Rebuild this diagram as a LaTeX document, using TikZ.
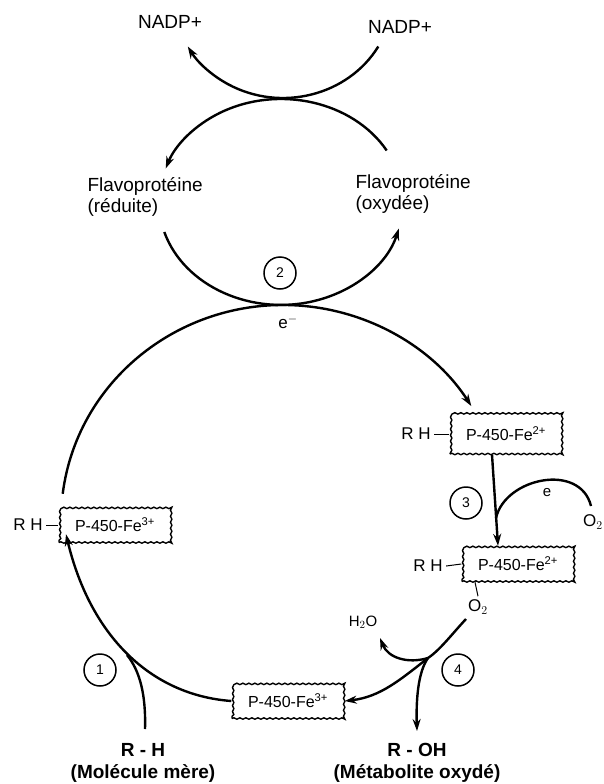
\documentclass[tikz,border=0pt]{standalone}
\usepackage{fontspec}
\setmainfont{Liberation Sans}
\usetikzlibrary{arrows.meta,decorations.pathmorphing}

\begin{document}
\begin{tikzpicture}[x=1pt, y=-1pt,
  every node/.style={font=\fontsize{17}{19}\selectfont},
  freccia/.style={line width=2.4pt, -{Stealth[length=12pt,width=8pt]}},
  linea/.style={line width=2.4pt},
  trattino/.style={line width=1pt},
  pbox/.style={draw, line width=1.4pt, decorate,
    decoration={snake, amplitude=0.7pt, segment length=6pt},
    minimum width=112pt, minimum height=35pt, inner sep=2pt,
    font=\fontsize{16}{18}\selectfont},
  tappa/.style={draw, circle, line width=1.5pt, minimum size=32pt,
    inner sep=0pt, font=\fontsize{14}{16}\selectfont},
  testo/.style={font=\fontsize{19}{21}\selectfont, align=left},
  nero/.style={font=\bfseries\fontsize{19}{22}\selectfont}]
  \useasboundingbox (0,0) rectangle (604,784);

  % NADP+ e flavoproteina
  \node[testo] (nadpL) at (170,22) {NADP+};
  \node[testo] (nadpR) at (400,27) {NADP+};
  \node[testo, anchor=west] (flavR) at (84,197) {Flavoprotéine\\(réduite)};
  \node[testo, anchor=west] (flavO) at (352,194) {Flavoprotéine\\(oxydée)};
  \node[tappa] (c2) at (280,273) {2};
  \node (eme) at (288,322) {e$^-$};

  % punti di contatto
  \coordinate (nadpIn) at (378.3,46.5);
  \coordinate (flavIn) at (386.7,150.5);
  \coordinate (flavOut) at (164.3,232.0);
  \coordinate (cicloIn) at (62.7,493.8);

  \draw[freccia] (nadpIn) arc[start angle=30, end angle=150, x radius=110, y radius=103];
  \draw[freccia] (flavIn) arc[start angle=-30, end angle=-161, x radius=122, y radius=103];
  \draw[freccia] (flavOut) arc[start angle=163, end angle=15, x radius=122, y radius=103];

  % citocromo P-450
  \node[pbox] (boxA) at (115,525) {P-450-Fe\textsuperscript{3+}};
  \node (rhA) at (28,525) {R H};
  \node[pbox, minimum height=40pt] (boxB) at (506,434) {P-450-Fe\textsuperscript{2+}};
  \node (rhB) at (416,434) {R H};
  \node[pbox] (boxC) at (518,564) {P-450-Fe\textsuperscript{2+}};
  \node (rhC) at (428,566) {R H};
  \node[pbox] (boxD) at (288,701) {P-450-Fe\textsuperscript{3+}};
  \foreach \r/\b in {rhA/boxA, rhB/boxB, rhC/boxC}
    \draw[trattino] (\r.east) -- (\b.west);

  % grande ciclo
  \draw[freccia] (cicloIn) arc[start angle=187, end angle=328, x radius=222, y radius=215];

  % tappa 1
  \node[tappa] (c1) at (100,670) {1};
  \node[nero] (rh) at (143,750) {R - H};
  \node[nero] (mere) at (143,773) {(Molécule mère)};
  \coordinate (j1) at (127,655);
  \coordinate (rhOut) at (145,729);
  \draw[freccia] (boxD.west) .. controls (150,695) and (90,635) .. ([xshift=-49pt, yshift=9pt]boxA.south);
  \draw[linea] (rhOut) .. controls (146,695) and (140,671) .. (j1);

  % tappa 3
  \node[tappa] (c3) at (466,503) {3};
  \node[font=\fontsize{15}{17}\selectfont] (e) at (547,493) {e};
  \node[anchor=west, inner sep=1pt] (o2a) at (582,522) {O$_2$};
  \coordinate (eIn) at (496,518);
  \draw[freccia] ([xshift=-14pt]boxB.south) -- ([xshift=-20pt]boxC.north);
  \draw[linea] (591,506) .. controls (580,462) and (505,478) .. (eIn);

  % tappa 4
  \node (o2b) at (478,607) {O$_2$};
  \node[font=\fontsize{15}{17}\selectfont] (h2o) at (363,622) {H$_2$O};
  \node[tappa] (c4) at (458,670) {4};
  \node[nero] (roh) at (417,750) {R - OH};
  \node[nero] (meta) at (417,773) {(Métabolite oxydé)};
  \draw[trattino] ([xshift=-43pt]boxC.south) -- (o2b.north);
  \coordinate (j4) at (428,658);
  \coordinate (o2Out) at (466,619);
  \draw[linea] (o2Out) .. controls (452,634) and (440,650) .. (j4);
  \draw[freccia] (j4) .. controls (400,680) and (380,697) .. (boxD.east);
  \draw[freccia] (j4) .. controls (408,664) and (388,658) .. (380,638);
  \draw[freccia] (j4) .. controls (418,672) and (416,700) .. (417,731);
\end{tikzpicture}
\end{document}
